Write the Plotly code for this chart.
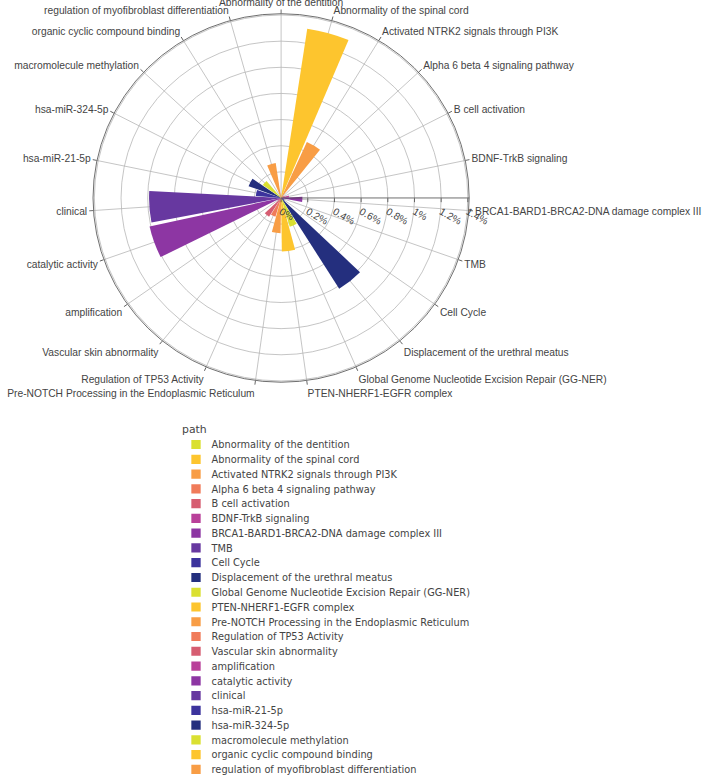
import plotly.graph_objects as go

paths = [
    "Abnormality of the dentition",
    "Abnormality of the spinal cord",
    "Activated NTRK2 signals through PI3K",
    "Alpha 6 beta 4 signaling pathway",
    "B cell activation",
    "BDNF-TrkB signaling",
    "BRCA1-BARD1-BRCA2-DNA damage complex III",
    "TMB",
    "Cell Cycle",
    "Displacement of the urethral meatus",
    "Global Genome Nucleotide Excision Repair (GG-NER)",
    "PTEN-NHERF1-EGFR complex",
    "Pre-NOTCH Processing in the Endoplasmic Reticulum",
    "Regulation of TP53 Activity",
    "Vascular skin abnormality",
    "amplification",
    "catalytic activity",
    "clinical",
    "hsa-miR-21-5p",
    "hsa-miR-324-5p",
    "macromolecule methylation",
    "organic cyclic compound binding",
    "regulation of myofibroblast differentiation",
]

# share of each path, in percent
share_pct = [
    0.01, 1.31, 0.47, 0.02, 0.03, 0.06, 0.16, 0.02, 0.03, 0.82,
    0.23, 0.41, 0.27, 0.15, 0.17, 0.03, 1.01, 0.99, 0.19, 0.26,
    0.17, 0.02, 0.27,
]

palette = [
    "#dae031", "#fdc52e", "#f89d45", "#f07b5a", "#d65d71",
    "#b9409a", "#8d36a3", "#6738a0", "#3c339d", "#242f7e",
]

radial_ticks = [0, 0.2, 0.4, 0.6, 0.8, 1.0, 1.2, 1.4]
radial_labels = ["0%", "0.2%", "0.4%", "0.6%", "0.8%", "1%", "1.2%", "1.4%"]

fig = go.Figure()
for i, (p, v) in enumerate(zip(paths, share_pct)):
    fig.add_trace(go.Barpolar(
        r=[v], theta=[p], name=p,
        marker=dict(color=palette[i % len(palette)], line=dict(width=0)),
    ))

W, H = 909, 1060
cx, cy, rad = 361.4, 259.8, 241.8
axis_font = dict(family="'Liberation Sans', Arial, sans-serif", size=13.2, color="#444")
legend_font = dict(family="'DejaVu Sans', verdana, sans-serif", size=12.6, color="#444")

fig.update_layout(
    template="none",
    width=W, height=H,
    margin=dict(l=0, r=0, t=0, b=0),
    paper_bgcolor="white",
    font=dict(family="'Liberation Sans', Arial, sans-serif", size=12, color="#444"),
    polar=dict(
        domain=dict(x=[(cx - rad) / W, (cx + rad) / W],
                    y=[1 - (cy + rad) / H, 1 - (cy - rad) / H]),
        bgcolor="white",
        bargap=0.1,
        angularaxis=dict(
            type="category", categoryorder="array", categoryarray=paths,
            rotation=90, direction="clockwise",
            showline=True, linecolor="#444", linewidth=1,
            ticks="outside", ticklen=5, tickcolor="#444",
            tickfont=axis_font,
            showgrid=True, gridcolor="#b4b4b4", gridwidth=1,
        ),
        radialaxis=dict(
            range=[0, 1.41], tickmode="array",
            tickvals=radial_ticks, ticktext=radial_labels, tickangle=30,
            tickfont=axis_font,
            showline=True, linecolor="#444", linewidth=1,
            ticks="outside", ticklen=5, tickcolor="#444",
            showgrid=True, gridcolor="#b4b4b4", gridwidth=1,
        ),
    ),
    legend=dict(
        title=dict(text="path", font=dict(legend_font, size=14)),
        font=legend_font,
        x=232 / W, xanchor="left",
        y=1 - 550.5 / H, yanchor="top",
        tracegroupgap=0,
        bgcolor="rgba(0,0,0,0)",
    ),
    showlegend=True,
)

post = """
document.documentElement.style.overflow='hidden';
document.body.style.margin='0';
document.body.style.overflow='hidden';
var gd = document.getElementById('{plot_id}');
gd.style.transformOrigin='0 0';
gd.style.transform='scale(0.7778, 0.762)';
"""

fig.write_html("out.html", post_script=post, config={"displayModeBar": False})
